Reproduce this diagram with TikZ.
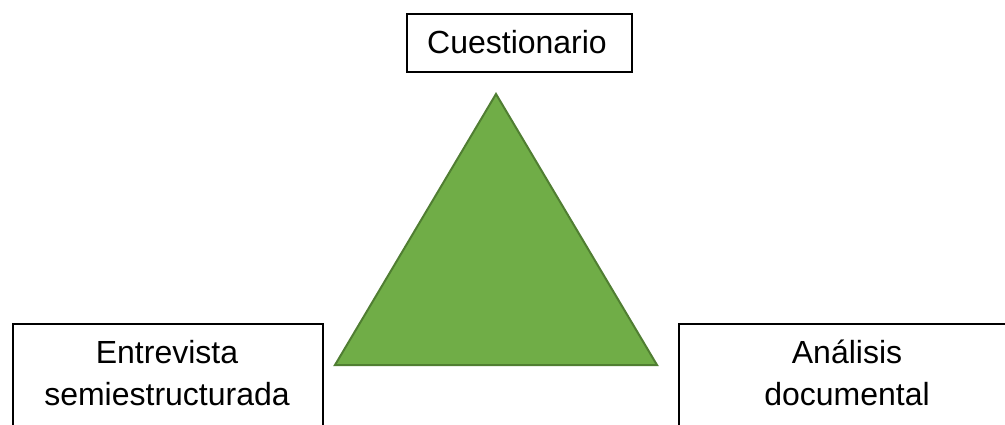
\documentclass[tikz,border=0pt]{standalone}
\usepackage{fontspec}
\setmainfont{Liberation Sans}
\definecolor{triFill}{HTML}{70AD47}
\definecolor{triLine}{HTML}{507E32}
\begin{document}
\begin{tikzpicture}[x=1pt,y=-1pt,
  box/.style={draw=black, line width=1.5pt, fill=white, inner sep=0pt},
  lbl/.style={font=\fontsize{32}{42}\selectfont, align=center, inner sep=0pt, text=black},
  tri/.style={fill=triFill, draw=triLine, line width=2pt, line join=miter}]
\useasboundingbox (0,0) rectangle (1005,424);
\clip (0,0) rectangle (1005,424);
% top box
\node[box, minimum width=225, minimum height=58, anchor=north west] (qbox) at (406,13) {};
\node[lbl, anchor=base] (qtxt) at (517,53) {Cuestionario};
% left box
\node[box, minimum width=310, minimum height=140, anchor=north west] (ebox) at (12,323) {};
\node[lbl, anchor=north] (etxt) at (167,331) {\rule{0pt}{32pt}Entrevista\\semiestructurada};
% right box
\node[box, minimum width=340, minimum height=140, anchor=north west] (abox) at (678,323) {};
\node[lbl, anchor=north] (atxt) at (847,331) {\rule{0pt}{32pt}Análisis\\documental};
% triangle
\coordinate (apex) at (496,94);
\coordinate (bl) at (335,365);
\coordinate (br) at (657,365);
\draw[tri] (apex) -- (br) -- (bl) -- cycle;
\end{tikzpicture}
\end{document}
